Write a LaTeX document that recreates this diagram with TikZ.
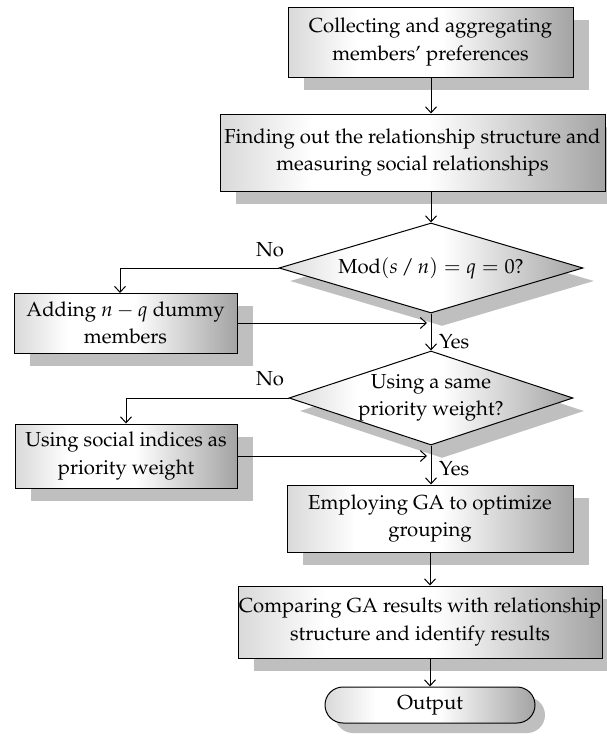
\documentclass[tikz,border=0pt]{standalone}
\usepackage[T1]{fontenc}
\usepackage{mathpazo}
\usetikzlibrary{shapes.geometric,shadows,arrows.meta}
\pgfdeclarehorizontalshading{boxshade}{100bp}{color(0bp)=(black!15); color(25bp)=(black!15); color(37bp)=(white); color(52bp)=(white); color(75bp)=(black!36); color(100bp)=(black!36)}
\tikzset{
  base/.style={draw=black, line width=1pt, shading=boxshade, align=center, inner sep=0pt,
    font=\fontsize{20.3}{27.5}\selectfont},
  stepbox/.style={base, rectangle,
    drop shadow={shadow xshift=16pt, shadow yshift=-13pt, fill=black!25, opacity=1}},
  decide/.style={base, diamond, inner sep=-7pt,
    drop shadow={shadow xshift=11pt, shadow yshift=-13pt, fill=black!25, opacity=1}},
  term/.style={base, rectangle, rounded corners=18pt,
    drop shadow={shadow xshift=10pt, shadow yshift=-10pt, fill=black!25, opacity=1}},
  arr/.style={draw=black, line width=1pt, -{Straight Barb[length=6pt,width=11pt]}},
  lbl/.style={font=\fontsize{20.3}{26}\selectfont, inner sep=0pt}
}
\begin{document}
\begin{tikzpicture}[x=1pt,y=-1pt]
\useasboundingbox (0,0) rectangle (607,744);
\fill[white] (0,0) rectangle (607,744);
\node[stepbox, minimum width=285pt, minimum height=70pt] (b1) at (430.5,42) {Collecting and aggregating\\members\textquoteright\ preferences};
\node[stepbox, minimum width=385pt, minimum height=77pt] (b2) at (412.5,152.5) {Finding out the relationship structure and\\measuring social relationships};
\node[decide, aspect=3.38, minimum width=304pt, minimum height=90pt] (d1) at (431,268) {Mod$(s\,/\,n) = q = 0$?};
\node[stepbox, minimum width=223pt, minimum height=60pt] (b3) at (125.5,323) {Adding $n - q$ dummy\\members};
\node[decide, aspect=3.02, minimum width=284pt, minimum height=94pt] (d2) at (431,398) {Using a same\\priority weight?};
\node[stepbox, minimum width=222pt, minimum height=64pt] (b4) at (126,456) {Using social indices as\\priority weight};
\node[stepbox, minimum width=286pt, minimum height=67pt] (b5) at (430,518.5) {Employing GA to optimize\\grouping};
\node[stepbox, minimum width=364pt, minimum height=72pt] (b6) at (420,622) {Comparing GA results with relationship\\structure and identify results};
\node[term, minimum width=210pt, minimum height=36pt] (out) at (430,705) {Output};

\node[lbl] (no1) at (270,250) {No};
\node[lbl] (no2) at (270,379) {No};
\node[lbl, anchor=west] (yes1) at (439,342) {Yes};
\node[lbl, anchor=west] (yes2) at (439,469) {Yes};

\coordinate (b3in) at (120,293);
\draw[arr] (b1.south -| d1.north) -- (b2.north -| d1.north);
\draw[arr] (b2.south -| d1.north) -- (d1.north);
\draw[arr] (d1.west) -| (b3in);
\draw[arr] (d1.south) -- (d2.north);
\draw[arr, shorten >=4pt] (b3.east) -- (b3.east -| d1.south);
\draw[arr] (d2.west) -| (b4.north);
\draw[arr] (d2.south) -- (d2.south |- b5.north);
\draw[arr, shorten >=4pt] (b4.east) -- (b4.east -| d2.south);
\draw[arr] (b5.south) -- (b5.south |- b6.north);
\draw[arr] (out.north |- b6.south) -- (out.north);
\end{tikzpicture}
\end{document}
